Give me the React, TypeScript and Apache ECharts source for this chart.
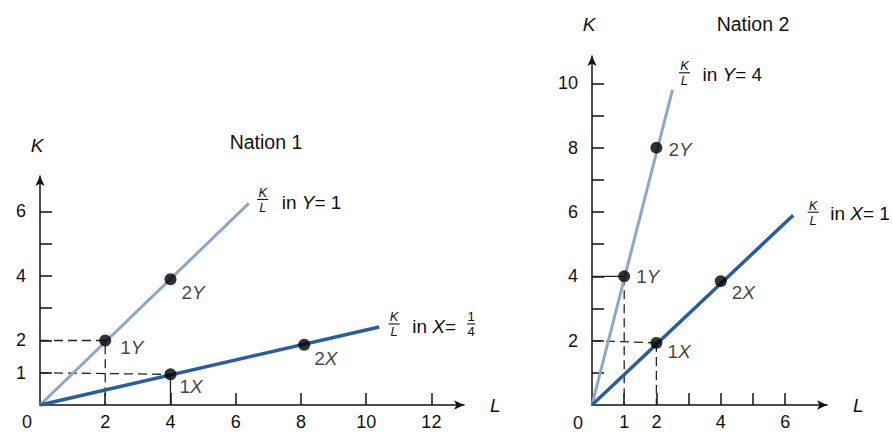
import React, { useEffect, useRef } from "react";
import * as echarts from "echarts";

// ---------- data ----------
const nation1Title = "Nation 1";
const nation2Title = "Nation 2";

// Nation 1
const n1YRay = [[0, 0], [6.4, 6.25]];
const n1XRay = [[0, 0], [10.4, 2.42]];
const n1PointNames = ["1Y", "2Y", "1X", "2X"];
const n1PointValues = [[2, 2], [4, 3.9], [4, 0.95], [8.1, 1.87]];
const n1DashedGuides = [
  [[0, 2], [2, 2], [2, 0]],
  [[0, 1], [4, 0.95]],
];
const n1SolidGuides = [[[4, 0.95], [4, 0]]];
const n1XTicks = [2, 4, 6, 8, 10, 12];
const n1XLabels = [2, 4, 6, 8, 10, 12];
const n1YTicks = [1, 2, 3, 4, 5, 6];
const n1YLabels = [1, 2, 4, 6];

// Nation 2
const n2YRay = [[0, 0], [2.5, 9.8]];
const n2XRay = [[0, 0], [6.25, 5.9]];
const n2PointNames = ["1Y", "2Y", "1X", "2X"];
const n2PointValues = [[1, 4], [2, 8], [2, 1.93], [4, 3.85]];
const n2DashedGuides = [
  [[1, 4], [1, 0]],
  [[0, 2], [2, 1.93]],
  [[2, 1.93], [2, 0]],
];
const n2SolidGuides = [[[0, 4], [1, 4]]];
const n2XTicks = [1, 2, 3, 4, 5, 6];
const n2XLabels = [1, 2, 4, 6];
const n2YTicks = [1, 2, 3, 4, 5, 6, 7, 8, 9, 10];
const n2YLabels = [2, 4, 6, 8, 10];

// curve labels: "K/L in Y = 1" etc.
const n1YCurveText = ["Y", "1"];
const n1XCurveText = ["X", "1/4"];
const n2YCurveText = ["Y", "4"];
const n2XCurveText = ["X", "1"];

// ---------- styles ----------
const FONT = "'Liberation Sans', Arial, Helvetica, sans-serif";
const TEXT = "#111";
const LIGHT = "#8ea7c8";
const DARK = "#2a5c9e";
const AXIS = "#111";
const TICK_FS = 18;
const LABEL_FS = 19;

const n1Offsets = [[4, 7], [0, 13], [-2, 12], [-1, 14]];
const n2Offsets = [[1, 0], [1, 2], [0, 9], [0, 11]];

function makeAxis(dim: "x" | "y", gridIndex: number, max: number, ticks: number[], labels: number[], name: string, nameGap: number) {
  return {
    type: "value",
    gridIndex,
    min: 0,
    max,
    name,
    nameLocation: "end",
    nameGap,
    nameTextStyle: {
      fontStyle: "italic",
      fontSize: 19,
      color: TEXT,
      fontFamily: FONT,
      padding: dim === "y" ? [0, 6, 0, 0] : [0, 0, 0, 0],
    },
    axisLine: {
      show: true,
      symbol: ["none", "arrow"],
      symbolSize: [7, 10],
      lineStyle: { color: AXIS, width: 1.5 },
    },
    axisTick: {
      show: true,
      inside: true,
      length: 12,
      customValues: ticks,
      lineStyle: { color: AXIS, width: 1.5 },
    },
    axisLabel: {
      show: true,
      customValues: labels,
      fontSize: TICK_FS,
      margin: dim === "x" ? 8 : 14,
      color: TEXT,
      fontFamily: FONT,
    },
    splitLine: { show: false },
  };
}

function raySeries(idx: number, data: number[][], color: string, width: number) {
  return {
    type: "line",
    xAxisIndex: idx,
    yAxisIndex: idx,
    data,
    symbol: "none",
    silent: true,
    lineStyle: { color, width },
    z: 3,
  };
}

function guideSeries(idx: number, data: number[][], dashed: boolean) {
  return {
    type: "line",
    xAxisIndex: idx,
    yAxisIndex: idx,
    data,
    symbol: "none",
    silent: true,
    lineStyle: { color: "#222", width: 1.3, type: dashed ? [9, 5] : "solid" },
    z: 2,
  };
}

function pointSeries(idx: number, names: string[], values: number[][], offsets: number[][]) {
  return {
    type: "scatter",
    xAxisIndex: idx,
    yAxisIndex: idx,
    symbol: "circle",
    symbolSize: 12,
    itemStyle: { color: "#000" },
    z: 5,
    data: values.map((v, i) => ({
      name: names[i],
      value: v,
      label: { offset: offsets[i] },
    })),
    label: {
      show: true,
      position: "right",
      distance: 5,
      formatter: (p: any) => `{n|${p.name[0]}}{i|${p.name.slice(1)}}`,
      rich: {
        n: { fontSize: LABEL_FS, color: TEXT, fontFamily: FONT },
        i: { fontSize: LABEL_FS, color: TEXT, fontFamily: FONT, fontStyle: "italic" },
      },
    },
  };
}

function fraction(cx: number, cy: number, top: string, bottom: string, italic: boolean, size = 13, w = 11) {
  const style = { fill: TEXT, fontSize: size, fontFamily: FONT, fontStyle: italic ? "italic" : "normal", align: "center" };
  return [
    { type: "text", x: cx, y: cy - 0.5, silent: true, style: { ...style, text: top, verticalAlign: "bottom" } },
    { type: "line", silent: true, shape: { x1: cx - w / 2, y1: cy, x2: cx + w / 2, y2: cy }, style: { stroke: TEXT, lineWidth: 1.1 } },
    { type: "text", x: cx, y: cy + 1.5, silent: true, style: { ...style, text: bottom, verticalAlign: "top" } },
  ];
}

function curveLabel(anchor: number[], fracOff: number[], textOff: number[], parts: string[]) {
  const els: any[] = [];
  els.push(...fraction(anchor[0] + fracOff[0], anchor[1] + fracOff[1], "K", "L", true));
  const [letter, value] = parts;
  const isFrac = value.includes("/");
  els.push({
    type: "text",
    x: anchor[0] + textOff[0],
    y: anchor[1] + textOff[1],
    silent: true,
    style: {
      text: `in {i|${letter}}= ${isFrac ? "" : value}`,
      fill: TEXT,
      fontSize: LABEL_FS,
      fontFamily: FONT,
      verticalAlign: "middle",
      align: "left",
      rich: { i: { fontSize: LABEL_FS, fontFamily: FONT, fontStyle: "italic", fill: TEXT } },
    },
  });
  if (isFrac) {
    const [a, b] = value.split("/");
    els.push(...fraction(anchor[0] + textOff[0] + 59, anchor[1] + fracOff[1], a, b, false, 13, 8));
  }
  return els;
}

export default function App() {
  const ref = useRef<HTMLDivElement>(null);
  useEffect(() => {
    if (!ref.current) return;
    const chart = echarts.init(ref.current, undefined, { renderer: "svg" });
    const option: any = {
      animation: false,
      backgroundColor: "#ffffff",
      grid: [
        { left: 40, top: 176, width: 424, height: 229 },
        { left: 592, top: 56, width: 235, height: 349 },
      ],
      xAxis: [
        makeAxis("x", 0, 13, n1XTicks, n1XLabels, "L", 26),
        makeAxis("x", 1, 7.3, n2XTicks, n2XLabels, "L", 26),
      ],
      yAxis: [
        makeAxis("y", 0, 7.1, n1YTicks, n1YLabels, "K", 21),
        makeAxis("y", 1, 10.85, n2YTicks, n2YLabels, "K", 22),
      ],
      series: [
        ...n1DashedGuides.map((g) => guideSeries(0, g, true)),
        ...n1SolidGuides.map((g) => guideSeries(0, g, false)),
        raySeries(0, n1YRay, LIGHT, 3),
        raySeries(0, n1XRay, DARK, 3.5),
        pointSeries(0, n1PointNames, n1PointValues, n1Offsets),
        ...n2DashedGuides.map((g) => guideSeries(1, g, true)),
        ...n2SolidGuides.map((g) => guideSeries(1, g, false)),
        raySeries(1, n2YRay, LIGHT, 3),
        raySeries(1, n2XRay, DARK, 3.5),
        pointSeries(1, n2PointNames, n2PointValues, n2Offsets),
      ],
    };
    chart.setOption(option);

    const px = (g: number, p: number[]) => chart.convertToPixel({ gridIndex: g }, p) as number[];
    const o1 = px(0, [0, 0]);
    const o2 = px(1, [0, 0]);
    const titleStyle = { fill: TEXT, fontSize: 19.5, fontFamily: FONT, align: "center", verticalAlign: "middle" };
    const zeroStyle = { fill: TEXT, fontSize: TICK_FS, fontFamily: FONT, align: "center", verticalAlign: "middle" };
    const graphic: any[] = [
      { type: "text", x: 266, y: 142, silent: true, style: { ...titleStyle, text: nation1Title } },
      { type: "text", x: 753, y: 24, silent: true, style: { ...titleStyle, text: nation2Title } },
      { type: "text", x: o1[0] - 13, y: o1[1] + 17, silent: true, style: { ...zeroStyle, text: "0" } },
      { type: "text", x: o2[0] - 14, y: o2[1] + 18, silent: true, style: { ...zeroStyle, text: "0" } },
      ...curveLabel(px(0, n1YRay[1]), [14, -4], [33, -1], n1YCurveText),
      ...curveLabel(px(0, n1XRay[1]), [15, -3], [33, 0], n1XCurveText),
      ...curveLabel(px(1, n2YRay[1]), [12, -17], [30, -15], n2YCurveText),
      ...curveLabel(px(1, n2XRay[1]), [20, -3], [37, -2], n2XCurveText),
    ];
    chart.setOption({ graphic });
    return () => chart.dispose();
  }, []);
  return (
    <div
      ref={ref}
      style={{ position: "fixed", left: 0, top: 0, width: 892, height: 436, background: "#fff" }}
    />
  );
}
